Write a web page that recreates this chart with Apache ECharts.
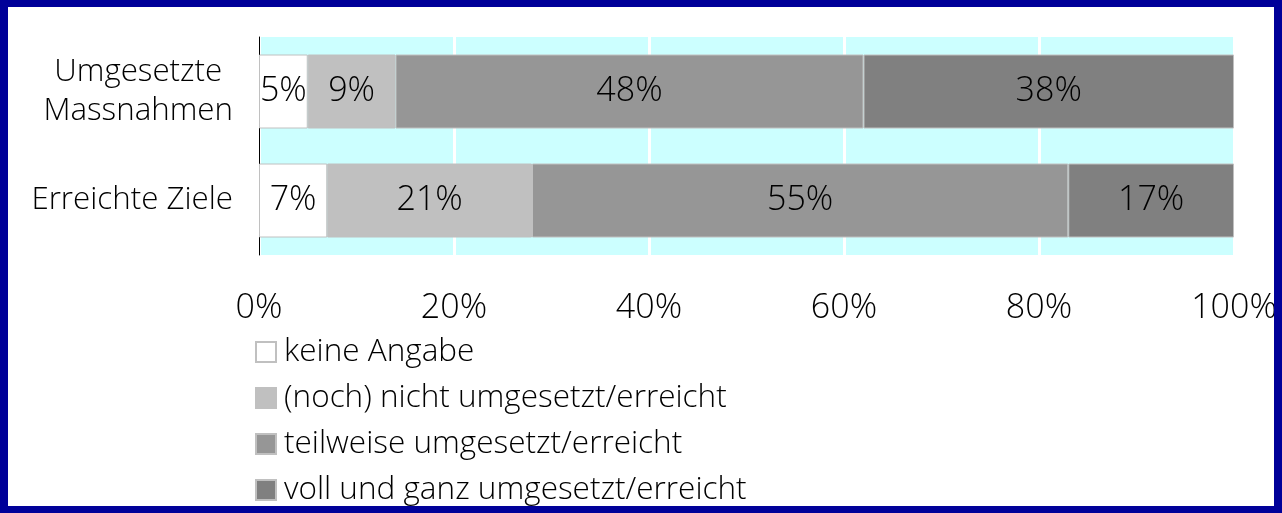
<!DOCTYPE html>
<html>
<head>
<meta charset="utf-8">
<script src="https://cdn.jsdelivr.net/npm/echarts@6/dist/echarts.min.js"></script>
<style>
  html, body { margin: 0; padding: 0; }
  #frame { position: absolute; left: 0; top: 0; width: 1282px; height: 513px; background: #000099; }
  #chart { position: absolute; left: 8px; top: 7px; width: 1266px; height: 499px; background: #ffffff; }
</style>
</head>
<body>
<div id="frame"><div id="chart"></div></div>
<script>
// Categories (top to bottom)
const categories = ['Umgesetzte\nMassnahmen', 'Erreichte Ziele'];

// Shares in percent per answer group
const keineAngabe = [5, 7];
const nochNicht = [9, 21];
const teilweise = [48, 55];
const vollUndGanz = [38, 17];

const seriesNames = [
  'keine Angabe',
  '(noch) nicht umgesetzt/erreicht',
  'teilweise umgesetzt/erreicht',
  'voll und ganz umgesetzt/erreicht'
];
const seriesValues = [keineAngabe, nochNicht, teilweise, vollUndGanz];
const seriesColors = ['#ffffff', '#c0c0c0', '#969696', '#808080'];

const xTicks = [0, 20, 40, 60, 80, 100];

const FONT = '"Open Sans", "Noto Sans", sans-serif';
const FS_CAT = 31.3;
const FS_LEGEND = 31.5;
const FS_NUM = 34;

const chart = echarts.init(document.getElementById('chart'), null, { renderer: 'canvas' });

chart.setOption({
  animation: false,
  backgroundColor: '#ffffff',
  textStyle: { fontFamily: FONT },
  grid: {
    left: 251, top: 30, width: 975, height: 218,
    show: true, backgroundColor: '#ccffff', borderWidth: 0,
    containLabel: false,
    outerBoundsMode: 'none'
  },
  legend: {
    orient: 'vertical',
    left: 247, top: 329,
    padding: 0,
    itemWidth: 20, itemHeight: 20,
    itemGap: 14,
    icon: 'rect',
    selectedMode: false,
    data: seriesNames,
    textStyle: { fontFamily: FONT, fontWeight: 300, fontSize: FS_LEGEND, color: '#000', padding: [0, 0, 0, 3] }
  },
  xAxis: {
    type: 'value',
    min: xTicks[0], max: xTicks[xTicks.length - 1], interval: 20,
    axisLine: { show: false },
    axisTick: { show: false },
    splitLine: { show: true, lineStyle: { color: '#ffffff', width: 3 } },
    axisLabel: {
      formatter: '{value}%', fontFamily: FONT, fontWeight: 300, fontSize: FS_NUM,
      color: '#000', margin: 36, lineHeight: 34
    }
  },
  yAxis: {
    type: 'category',
    inverse: true,
    data: categories,
    axisLine: { show: true, lineStyle: { color: '#000', width: 1 } },
    axisTick: { show: false },
    splitLine: { show: false },
    axisLabel: {
      margin: 26,
      fontFamily: FONT, fontSize: FS_CAT, color: '#000',
      formatter: function (v) {
        return v.split('\n').map(function (s) { return '{c|' + s + '}'; }).join('\n');
      },
      rich: { c: { fontFamily: FONT, fontWeight: 300, fontSize: FS_CAT, color: '#000', align: 'center', lineHeight: 39 } }
    }
  },
  series: seriesNames.map(function (name, i) {
    return {
      name: name,
      type: 'bar',
      stack: 'total',
      barWidth: 74,
      data: seriesValues[i],
      itemStyle: { color: seriesColors[i], borderColor: '#c0c0c0', borderWidth: 1 },
      label: {
        show: true, position: 'inside', formatter: '{c}%',
        fontFamily: FONT, fontWeight: 300, fontSize: FS_NUM, color: '#000'
      }
    };
  })
});
</script>
</body>
</html>
